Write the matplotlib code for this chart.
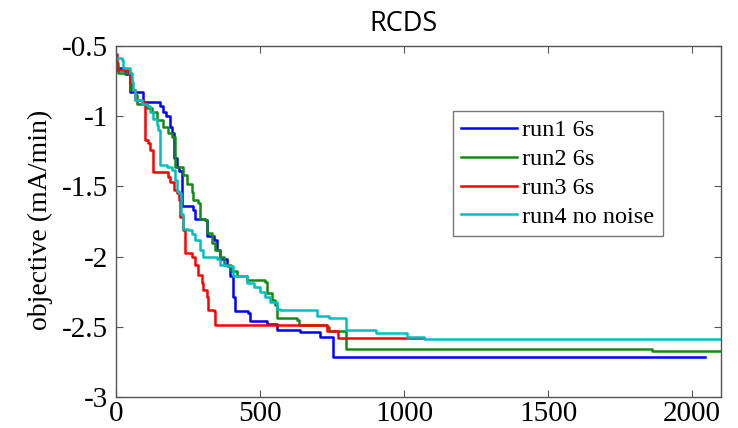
import matplotlib
matplotlib.use("Agg")
import matplotlib.pyplot as plt
from matplotlib.ticker import FormatStrFormatter

plt.rcParams['axes.unicode_minus'] = False

# step curves (iteration, objective)
run1_x = [0, 30, 49, 95, 153, 165, 175, 188, 194, 200, 211, 220, 229, 269, 275, 310, 316, 339,
          350, 362, 385, 397, 408, 414, 460, 466, 524, 559, 640, 710, 752, 2045]
run1_y = [-0.66, -0.70, -0.825, -0.90, -0.93, -0.97, -1.0, -1.075, -1.12, -1.30, -1.36, -1.39,
          -1.64, -1.67, -1.73, -1.74, -1.85, -1.88, -1.95, -2.02, -2.07, -2.14, -2.29, -2.39,
          -2.40, -2.46, -2.48, -2.52, -2.535, -2.57, -2.715, -2.715]

run2_x = [0, 8, 49, 66, 72, 107, 124, 142, 165, 182, 194, 205, 234, 246, 263, 269, 286, 292,
          310, 316, 333, 345, 362, 374, 400, 420, 455, 519, 524, 542, 553, 559, 629, 634, 733,
          739, 797, 1859, 2100]
run2_y = [-0.62, -0.69, -0.81, -0.85, -0.91, -0.94, -0.97, -1.03, -1.075, -1.12, -1.146, -1.36,
          -1.42, -1.48, -1.54, -1.60, -1.62, -1.73, -1.74, -1.83, -1.905, -1.95, -2.0, -2.06,
          -2.10, -2.14, -2.165, -2.18, -2.26, -2.31, -2.345, -2.44, -2.45, -2.487, -2.50,
          -2.528, -2.655, -2.67, -2.67]

run3_x = [0, 3, 43, 49, 55, 66, 95, 101, 112, 118, 130, 182, 188, 200, 211, 218, 223, 234, 240,
          263, 275, 286, 298, 304, 316, 321, 339, 345, 734, 770, 1068]
run3_y = [-0.56, -0.67, -0.683, -0.766, -0.81, -0.885, -0.897, -1.17, -1.19, -1.24, -1.395,
          -1.43, -1.47, -1.525, -1.55, -1.60, -1.716, -1.81, -1.977, -2.0, -2.06, -2.13, -2.19,
          -2.24, -2.286, -2.38, -2.39, -2.49, -2.53, -2.58, -2.58]

run4_x = [0, 20, 25, 49, 55, 60, 66, 89, 107, 118, 130, 142, 147, 153, 176, 194, 205, 211, 218,
          225, 234, 252, 263, 275, 292, 304, 350, 362, 385, 408, 455, 478, 501, 519, 536, 559,
          571, 698, 740, 800, 901, 1011, 1069, 2100]
run4_y = [-0.588, -0.60, -0.66, -0.695, -0.754, -0.81, -0.885, -0.91, -0.93, -0.97, -1.02,
          -1.06, -1.10, -1.35, -1.36, -1.38, -1.455, -1.53, -1.55, -1.70, -1.80, -1.81, -1.84,
          -1.88, -1.95, -2.0, -2.02, -2.06, -2.07, -2.14, -2.19, -2.215, -2.25, -2.286, -2.32,
          -2.37, -2.38, -2.42, -2.44, -2.52, -2.546, -2.57, -2.585, -2.585]

labels = ["run1 6s", "run2 6s", "run3 6s", "run4 no noise"]
colors = ['#0000ff', '#138a13', '#ff0000', '#00bfbf']

fig = plt.figure(figsize=(7.38, 4.28), dpi=100)
ax = fig.add_axes([0.157, 0.0724, 0.820, 0.8201])

runs = [(run1_x, run1_y), (run2_x, run2_y), (run3_x, run3_y), (run4_x, run4_y)]
for (x, y), lab, c in zip(runs, labels, colors):
    ax.step(x, y, where='post', color=c, linewidth=1.8, label=lab)

ax.set_xlim(0, 2100)
ax.set_ylim(-3, -0.5)
ax.set_xticks([0, 500, 1000, 1500, 2000])
ax.set_yticks([-3, -2.5, -2, -1.5, -1, -0.5])
ax.yaxis.set_major_formatter(FormatStrFormatter('%g'))
ax.tick_params(direction='in', top=True, right=True, length=5, width=0.8,
               labelsize=21, color='#555555')
ax.tick_params(axis='y', pad=5.5)
ax.tick_params(axis='x', pad=3)
for lbl in ax.get_xticklabels() + ax.get_yticklabels():
    lbl.set_family('Liberation Serif')
for sp in ax.spines.values():
    sp.set_color('#555555')
    sp.set_linewidth(1.0)

ax.set_ylabel("objective (mA/min)", family='Liberation Serif', fontsize=20)
ax.yaxis.set_label_coords(-0.104, 0.504)
fig.text(0.547, 0.945, "RCDS", family='Open Sans', fontsize=19.5, ha='center', va='center')

leg = ax.legend(loc='upper left', bbox_to_anchor=(0.557, 0.815), borderaxespad=0,
                prop={'family': 'Liberation Serif', 'size': 17.5}, fancybox=False,
                handlelength=2.3, handletextpad=0.2, labelspacing=0.28, borderpad=0.35)
leg.get_frame().set_edgecolor('#555555')
leg.get_frame().set_linewidth(1.0)

fig.savefig("out.png", dpi=100)
